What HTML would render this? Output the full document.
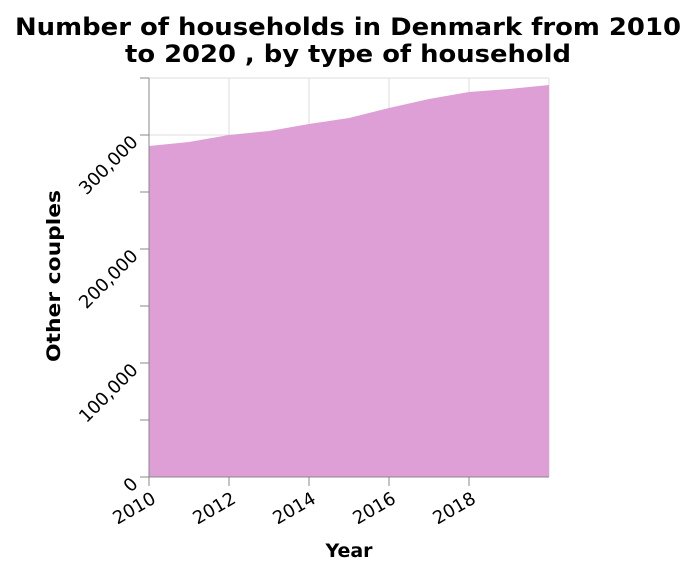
<!DOCTYPE html>
<html><head><meta charset="utf-8"><style>
body{margin:0;background:#fff;font-family:"DejaVu Sans","Liberation Sans",sans-serif;}
</style></head><body>
<svg width="696" height="572" id="c" font-family="DejaVu Sans, Liberation Sans, sans-serif">
<text x="348" y="35" text-anchor="middle" font-size="24" font-weight="bold" fill="#000" textLength="666" lengthAdjust="spacingAndGlyphs">Number of households in Denmark from 2010</text>
<text x="348" y="62" text-anchor="middle" font-size="24" font-weight="bold" fill="#000" textLength="446" lengthAdjust="spacingAndGlyphs">to 2020 , by type of household</text>
<g id="grid"></g><g id="area"></g><g id="axes"></g>
<text x="349" y="557" text-anchor="middle" font-size="19" font-weight="bold">Year</text>
<text transform="translate(60,276) rotate(-90)" text-anchor="middle" font-size="19" font-weight="bold" textLength="172" lengthAdjust="spacingAndGlyphs">Other couples</text>
</svg>
<script>
const years=[2010,2011,2012,2013,2014,2015,2016,2017,2018,2019,2020];
const values=[290400,293900,300000,303500,309600,314900,323700,331600,337700,340400,343900];
const xTicks=[2010,2012,2014,2016,2018];
const yTicks=[0,100000,200000,300000];
const yMinor=[50000,150000,250000,350000];
const X0=149,X1=549,Y0=477,Y1=78;
const x=v=>X0+(v-2010)/10*(X1-X0);
const y=v=>Y0-v/350000*(Y0-Y1);
const NS="http://www.w3.org/2000/svg";
function mk(p,t,a){const e=document.createElementNS(NS,t);for(const k in a)e.setAttribute(k,a[k]);document.getElementById(p).appendChild(e);return e;}
for(const t of xTicks.concat([2020])){const e=mk('grid','line',{x1:x(t),x2:x(t),y1:Y1,y2:Y0,stroke:'#ddd'});

}
for(const t of yTicks.concat(yMinor.slice(3))){const e=mk('grid','line',{x1:X0,x2:X1,y1:y(t),y2:y(t),stroke:'#ddd'});

}
let d='M'+x(years[0])+','+Y0;
years.forEach((yr,i)=>{d+=' L'+x(yr)+','+y(values[i]);});
d+=' L'+x(years[years.length-1])+','+Y0+' Z';
const a=mk('area','path',{d:d,fill:'#dd9fd5'});


const ax=mk('axes','line',{x1:X0,x2:X0,y1:Y1,y2:Y0,stroke:'#888'});


const bx=mk('axes','line',{x1:X0-9,x2:X1,y1:Y0,y2:Y0,stroke:'#888'});


for(const t of yTicks.concat(yMinor)){const e=mk('axes','line',{x1:X0-9,x2:X0,y1:y(t),y2:y(t),stroke:'#888'});

}
for(const t of yTicks){const yy=y(t);const e=mk('axes','text',{transform:`translate(${X0-10},${yy+8}) rotate(-45)`,'text-anchor':'end','font-size':'18',fill:'#000'});
e.textContent=t.toLocaleString('en-US');

}
for(const t of xTicks){const e=mk('axes','line',{x1:x(t),x2:x(t),y1:Y0,y2:Y0+9,stroke:'#888'});


const l=mk('axes','text',{transform:`translate(${x(t)+8},${Y0+25}) rotate(-30)`,'text-anchor':'end','font-size':'18',fill:'#000'});
l.textContent=t;

}
</script>
</body></html>
